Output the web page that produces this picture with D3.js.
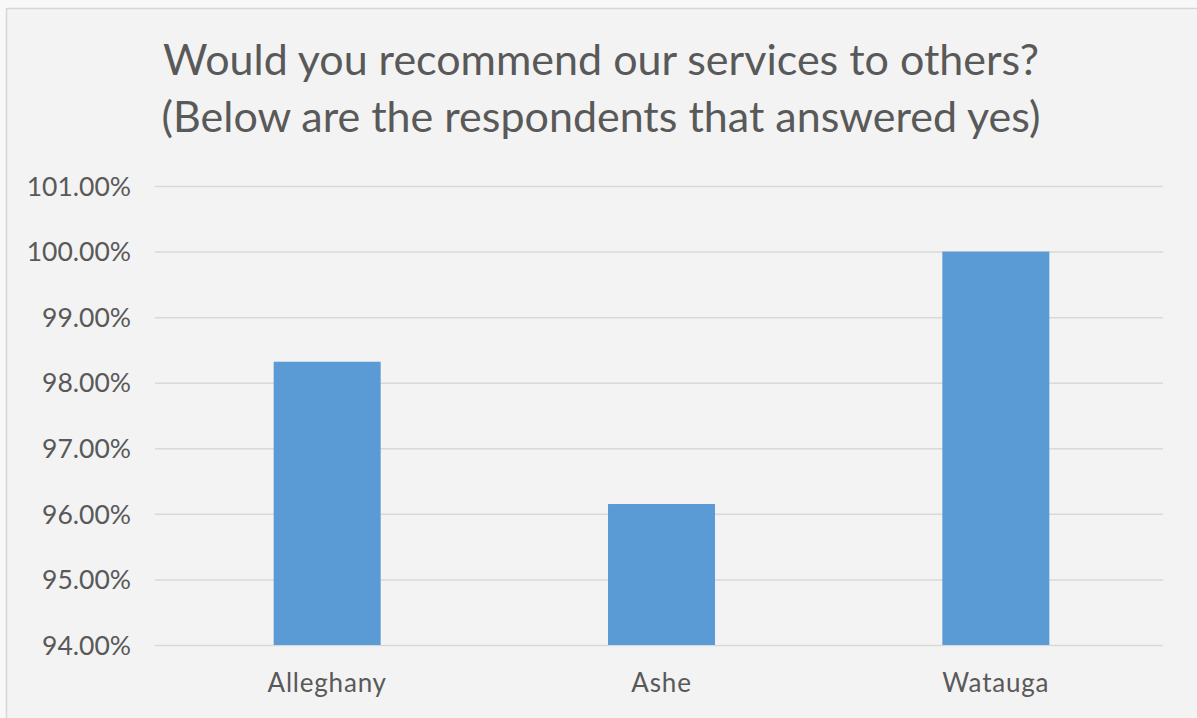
<!DOCTYPE html>
<html>
<head>
<meta charset="utf-8">
<script src="https://cdn.jsdelivr.net/npm/d3@7"></script>
<style>
  html, body { margin: 0; padding: 0; background: #f7f7f7; }
  svg { display: block; }
</style>
</head>
<body>
<svg id="chart" width="1197" height="718"></svg>
<script>
const titleLines = ["Would you recommend our services to others?", "(Below are the respondents that answered yes)"];
const categories = ["Alleghany", "Ashe", "Watauga"];
const values = [98.32, 96.15, 100.0];
const yTicks = [94, 95, 96, 97, 98, 99, 100, 101];

const W = 1197, H = 718;
const svg = d3.select("#chart");
const font = "Lato, 'Open Sans', sans-serif";
const textColor = "#595959";

// chart area background and frame
svg.append("rect").attr("x", 0).attr("y", 0).attr("width", W).attr("height", H).attr("fill", "#f8f8f8");
svg.append("rect").attr("x", 7).attr("y", 8).attr("width", W - 7).attr("height", H - 8)
  .attr("fill", "#f3f3f3");
svg.append("line").attr("x1", 7).attr("x2", W).attr("y1", 8.5).attr("y2", 8.5).attr("stroke", "#d6d6d6").attr("stroke-width", 1.5);
svg.append("line").attr("x1", 6.5).attr("x2", 6.5).attr("y1", 8).attr("y2", H).attr("stroke", "#d6d6d6").attr("stroke-width", 1.5);

const plot = { left: 155, right: 1163, top: 186, bottom: 645 };

const x = d3.scaleBand().domain(categories).range([160, 1163]).paddingInner(0.68).paddingOuter(0.34);
const y = d3.scaleLinear().domain([94, 101]).range([plot.bottom, plot.top]);

// gridlines
const yAxis = d3.axisLeft(y).tickValues(yTicks).tickSize(-(plot.right - plot.left))
  .tickFormat(d => d3.format(".2f")(d) + "%");
const gy = svg.append("g").attr("transform", `translate(${plot.left},0)`).call(yAxis);
gy.select(".domain").remove();
gy.selectAll(".tick line").attr("stroke", "#d9d9d9").attr("stroke-width", 1.5);
gy.selectAll(".tick text").attr("x", -24).attr("dy", "0.35em")
  .attr("fill", textColor).style("font-family", font).style("font-size", "26.5px");

// bars
svg.append("g").selectAll("rect").data(categories).join("rect")
  .attr("x", d => x(d))
  .attr("width", x.bandwidth())
  .attr("y", (d, i) => y(values[i]))
  .attr("height", (d, i) => y(94) - y(values[i]))
  .attr("fill", "#5b9bd5");

// x axis labels
const xAxis = d3.axisBottom(x).tickSize(0).tickPadding(0);
const gx = svg.append("g").attr("transform", `translate(0,${plot.bottom})`).call(xAxis);
gx.select(".domain").remove();
gx.selectAll(".tick text").attr("y", 47).attr("dy", 0)
  .attr("fill", textColor).style("font-family", font).style("font-size", "26px")
  .style("letter-spacing", "0.8px");

// title
svg.append("g").selectAll("text").data(titleLines).join("text")
  .attr("x", 601)
  .attr("y", (d, i) => 75 + i * 57)
  .attr("text-anchor", "middle")
  .attr("fill", textColor)
  .style("font-family", font)
  .style("font-size", "43px")
  .text(d => d);
</script>
</body>
</html>
